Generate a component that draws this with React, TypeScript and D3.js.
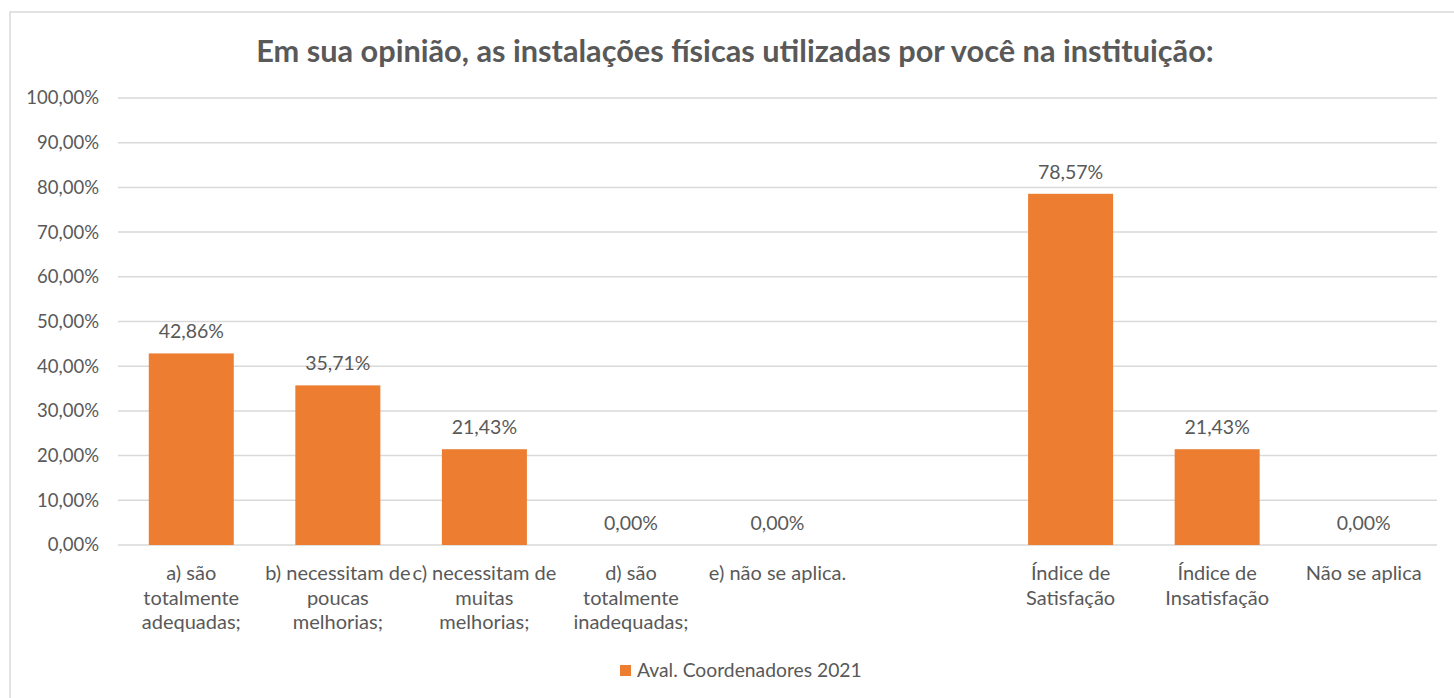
import React from "react";
import * as d3 from "d3";

const title = "Em sua opinião, as instalações físicas utilizadas por você na instituição:";
const categories = [
  "a) são totalmente adequadas;",
  "b) necessitam de poucas melhorias;",
  "c) necessitam de muitas melhorias;",
  "d) são totalmente inadequadas;",
  "e) não se aplica.",
  "",
  "Índice de Satisfação",
  "Índice de Insatisfação",
  "Não se aplica",
];
const categoryLines: string[][] = [
  ["a) são", "totalmente", "adequadas;"],
  ["b) necessitam de", "poucas", "melhorias;"],
  ["c) necessitam de", "muitas", "melhorias;"],
  ["d) são", "totalmente", "inadequadas;"],
  ["e) não se aplica."],
  [],
  ["Índice de", "Satisfação"],
  ["Índice de", "Insatisfação"],
  ["Não se aplica"],
];
const values: (number | null)[] = [42.86, 35.71, 21.43, 0, 0, null, 78.57, 21.43, 0];
const yTicks = [0, 10, 20, 30, 40, 50, 60, 70, 80, 90, 100];
const seriesName = "Aval. Coordenadores 2021";

const W = 1454;
const H = 698;
const FONT = "Lato, 'Open Sans', sans-serif";
const TEXT = "#595959";
const BAR = "#ED7D31";
const GRID = "#D9D9D9";

const fmt = (v: number) => v.toFixed(2).replace(".", ",") + "%";

export default function App() {
  const x = d3
    .scaleBand<string>()
    .domain(categories.map((c, i) => String(i)))
    .range([118, 1437])
    .paddingInner(0.42)
    .paddingOuter(0.21);
  const y = d3.scaleLinear().domain([0, 100]).range([545, 98]);

  return (
    <svg
      width={W}
      height={H}
      style={{ position: "absolute", left: 0, top: 0, background: "#fff" }}
      fontFamily={FONT}
    >
      <rect x={10} y={12} width={W + 10} height={H + 10} fill="#fff" stroke={GRID} strokeWidth={1.5} />
      <text x={735} y={62} textAnchor="middle" fontSize={30.7} fontWeight="bold" fill={TEXT}>
        {title}
      </text>
      {yTicks.map((t) => (
        <g key={t}>
          <line x1={118} x2={1437} y1={y(t)} y2={y(t)} stroke={GRID} strokeWidth={1.5} />
          <text x={99} y={y(t)} dy="0.35em" textAnchor="end" fontSize={18.5} fill={TEXT}>
            {fmt(t)}
          </text>
        </g>
      ))}
      {categories.map((c, i) => {
        const v = values[i];
        const bx = x(String(i))!;
        const bw = x.bandwidth();
        const cx = bx + bw / 2;
        return (
          <g key={i}>
            {v !== null && (
              <>
                <rect x={bx} y={y(v)} width={bw} height={y(0) - y(v)} fill={BAR} />
                <text x={cx} y={y(v) - 15} textAnchor="middle" fontSize={19.5} fill={TEXT}>
                  {fmt(v)}
                </text>
              </>
            )}
            <text textAnchor="middle" fontSize={20} fill={TEXT}>
              {categoryLines[i].map((ln, j) => (
                <tspan key={j} x={cx} y={580 + j * 24.6}>
                  {ln}
                </tspan>
              ))}
            </text>
          </g>
        );
      })}
      <rect x={620} y={665} width={11} height={11} fill={BAR} />
      <text x={637} y={670} dy="0.35em" fontSize={19.3} fill={TEXT}>
        {seriesName}
      </text>
    </svg>
  );
}
